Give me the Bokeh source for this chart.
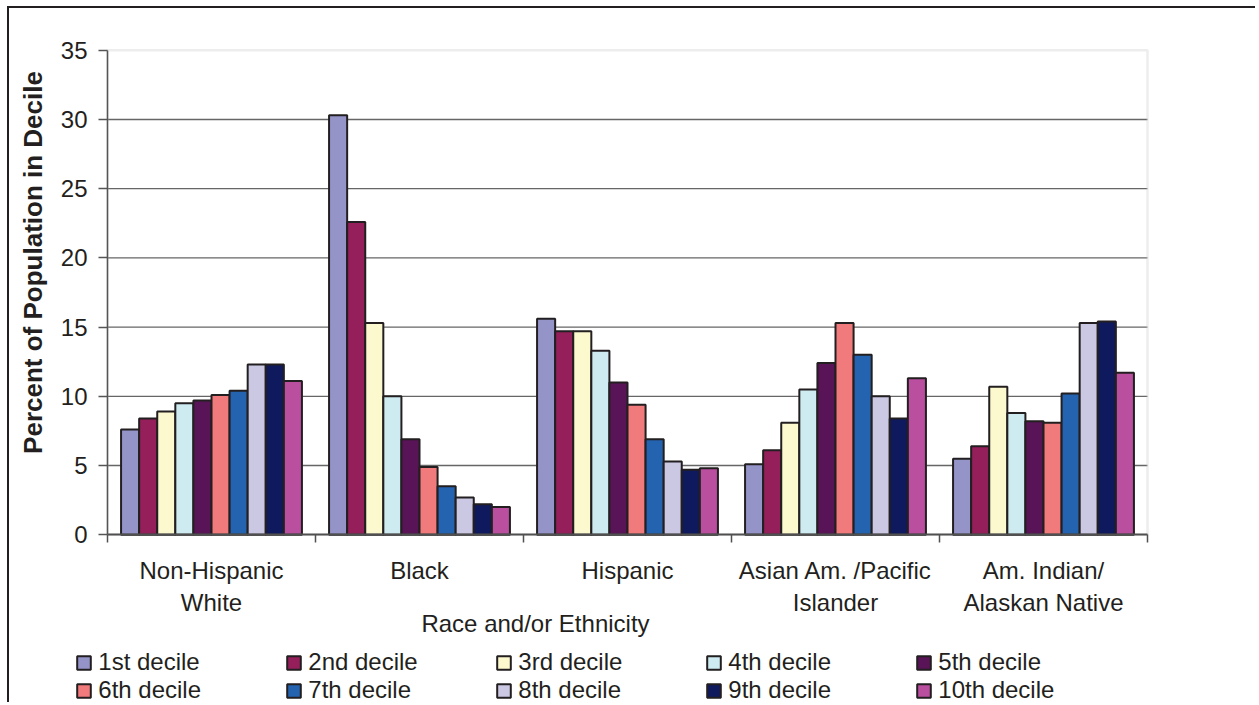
from bokeh.plotting import figure
from bokeh.models import (Range1d, FixedTicker, LinearAxis, Legend, LegendItem,
                          BoxAnnotation, ColumnDataSource)
from bokeh.embed import file_html
from bokeh.resources import INLINE

# ---------------- data ----------------
groups = ["Non-Hispanic\nWhite", "Black", "Hispanic",
          "Asian Am. /Pacific\nIslander", "Am. Indian/\nAlaskan Native"]
deciles = ["1st decile", "2nd decile", "3rd decile", "4th decile", "5th decile",
           "6th decile", "7th decile", "8th decile", "9th decile", "10th decile"]
nh_white = [7.6, 8.4, 8.9, 9.5, 9.7, 10.1, 10.4, 12.3, 12.3, 11.1]
black = [30.3, 22.6, 15.3, 10.0, 6.9, 4.9, 3.5, 2.7, 2.2, 2.0]
hispanic = [15.6, 14.7, 14.7, 13.3, 11.0, 9.4, 6.9, 5.3, 4.7, 4.8]
asian_pi = [5.1, 6.1, 8.1, 10.5, 12.4, 15.3, 13.0, 10.0, 8.4, 11.3]
am_indian = [5.5, 6.4, 10.7, 8.8, 8.2, 8.1, 10.2, 15.3, 15.4, 11.7]
y_ticks = [0, 5, 10, 15, 20, 25, 30, 35]
y_title = "Percent of Population in Decile"
x_title = "Race and/or Ethnicity"

colors = ["#9494c8", "#951f5b", "#fcf9cf", "#ceebf1", "#581456",
          "#f07a7c", "#2463af", "#cbc8e4", "#0f1a5e", "#b94f9e"]

series = [nh_white, black, hispanic, asian_pi, am_indian]

# ---------------- layout constants (pixels) ----------------
W, H = 1248, 696
OX, OY = 9, 8                 # canvas origin on the page
PLOT_L = 107 - OX             # left edge of plot area (canvas px)
GROUP_PX = 208
TOP_PX = 49.7 - OY            # y of the top tick
ZERO_PY = 534.3 - OY          # y of value 0
NG = len(groups)
ND = len(deciles)
YMAX = y_ticks[-1]
UNIT = (ZERO_PY - TOP_PX) / YMAX
BW = 1.0 / (ND + 1.5)
TEXT = "#231f20"
FONT = "Liberation Sans"

x_start = -PLOT_L / GROUP_PX
x_end = (W - PLOT_L) / GROUP_PX
y_end = YMAX + TOP_PX / UNIT
y_start = YMAX - (H - TOP_PX) / UNIT

p = figure(width=W, height=H, x_range=Range1d(x_start, x_end),
           y_range=Range1d(y_start, y_end),
           output_backend="svg", toolbar_location=None,
           x_axis_location=None, y_axis_location=None,
           min_border=0)
p.outline_line_color = None
p.background_fill_color = "white"
p.border_fill_color = "white"
p.styles = {"margin-left": "7px", "margin-top": "6px",
            "border-left": "2px solid #231f20", "border-top": "2px solid #231f20"}
p.xgrid.visible = False
p.ygrid.visible = False

# horizontal gridlines inside the plot area only
grid_src = ColumnDataSource(dict(y=y_ticks[1:-1]))
p.segment(x0=0, x1=NG, y0="y", y1="y", source=grid_src,
          line_color="#666666", line_width=1.4, level="underlay")

# plot-area border (light gray)
p.add_layout(BoxAnnotation(left=0, right=NG, bottom=0, top=YMAX,
                           fill_alpha=0, line_color="#c2c2c2", line_width=2.5,
                           level="underlay"))

# bars
renderers = []
for k in range(ND):
    xs = [g + 0.5 + (k - (ND - 1) / 2) * BW for g in range(NG)]
    tops = [s[k] for s in series]
    src = ColumnDataSource(dict(x=xs, top=tops))
    r = p.vbar(x="x", top="top", bottom=0, width=BW, source=src,
               fill_color=colors[k], line_color=TEXT, line_width=2)
    renderers.append(r)

# y axis at x = 0
ya = LinearAxis(fixed_location=0, ticker=FixedTicker(ticks=y_ticks), bounds=(0, YMAX),
                axis_line_color="#555555", axis_line_width=1.5,
                major_tick_line_color="#555555", major_tick_line_width=1.5,
                major_tick_out=9, major_tick_in=0, minor_tick_line_color=None,
                major_label_standoff=11, major_label_text_font=FONT,
                major_label_text_font_size="24px", major_label_text_color=TEXT)
p.add_layout(ya, "left")

# y axis title
TITLE_MID = (534.3 - 262) / UNIT
yt = LinearAxis(fixed_location=0, ticker=FixedTicker(ticks=[]),
                bounds=(TITLE_MID - 10, TITLE_MID + 10),
                axis_line_color=None, major_tick_line_color=None,
                minor_tick_line_color=None, major_label_text_font_size="0px",
                axis_label=y_title, axis_label_standoff=60,
                axis_label_text_font=FONT, axis_label_text_font_size="26px",
                axis_label_text_font_style="bold", axis_label_text_color=TEXT)
p.add_layout(yt, "left")

# x axis at value 0
xa = LinearAxis(fixed_location=0, bounds=(0, NG),
                ticker=FixedTicker(ticks=[g + 0.5 for g in range(NG)],
                                   minor_ticks=list(range(NG + 1))),
                major_label_overrides={g + 0.5: groups[g] for g in range(NG)},
                axis_line_color="#505050", axis_line_width=2,
                major_tick_out=0, major_tick_in=0,
                minor_tick_out=8, minor_tick_in=0,
                minor_tick_line_color="#505050", minor_tick_line_width=1.5,
                major_label_standoff=14, major_label_text_font=FONT,
                major_label_text_font_size="24px", major_label_text_color=TEXT)
p.add_layout(xa, "below")

# x axis title
XT_MID = (535 - 107) / GROUP_PX
xt = LinearAxis(fixed_location=0, ticker=FixedTicker(ticks=[]),
                bounds=(XT_MID - 1, XT_MID + 1),
                axis_line_color=None, major_tick_line_color=None,
                minor_tick_line_color=None, major_label_text_font_size="0px",
                axis_label=x_title, axis_label_standoff=75,
                axis_label_text_font=FONT, axis_label_text_font_size="24px",
                axis_label_text_font_style="normal", axis_label_text_color=TEXT)
p.add_layout(xt, "below")

# legend
legend = Legend(items=[LegendItem(label=deciles[k], renderers=[renderers[k]]) for k in range(ND)],
                location=(75.3 - OX, 0), orientation="horizontal", nrows=2,
                glyph_width=17, glyph_height=17, label_standoff=6, label_width=187,
                spacing=0, padding=0, margin=0, border_line_color=None,
                background_fill_alpha=0, label_text_font=FONT,
                label_text_font_size="24px", label_text_color=TEXT)
p.add_layout(legend)

open("out.html", "w").write(file_html(p, INLINE))
